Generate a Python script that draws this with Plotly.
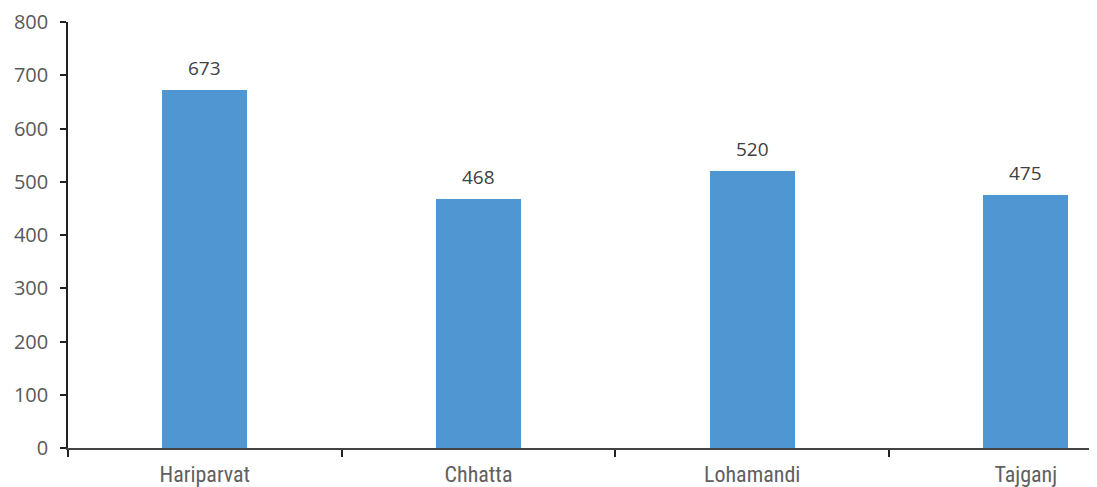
import plotly.graph_objects as go

categories = ["Hariparvat", "Chhatta", "Lohamandi", "Tajganj"]
values = [673, 468, 520, 475]
y_ticks = [0, 100, 200, 300, 400, 500, 600, 700, 800]

fig = go.Figure(go.Bar(
    x=categories, y=values,
    marker=dict(color="#4f97d3", line=dict(width=0)),
    width=0.31,
))

for c, v in zip(categories, values):
    fig.add_annotation(
        x=c, y=v, text=str(v), showarrow=False,
        yanchor="bottom", yshift=7,
        font=dict(family="Open Sans, DejaVu Sans", size=19, color="#404040"),
    )

fig.update_layout(
    width=1089, height=479,
    margin=dict(l=60, r=0, t=14, b=39, autoexpand=False),
    plot_bgcolor="white", paper_bgcolor="white",
    showlegend=False,
    bargap=0,
)
fig.update_xaxes(
    type="category",
    range=[-0.5, 3.26],
    tickson="boundaries",
    ticks="outside", ticklen=7, tickwidth=1.5, tickcolor="#222222",
    showline=True, linecolor="#444444", linewidth=1.5,
    showgrid=False, automargin=False,
    tickfont=dict(family="Liberation Sans Narrow, Roboto Condensed, DejaVu Sans Condensed", size=22, color="#606060"),
    ticklabelstandoff=6,
)
fig.update_yaxes(
    range=[0, 800],
    tickvals=y_ticks,
    ticks="outside", ticklen=6, tickwidth=1.5, tickcolor="#222222",
    showline=True, linecolor="#222222", linewidth=1.5,
    showgrid=False, zeroline=False, automargin=False,
    tickfont=dict(family="Open Sans, DejaVu Sans", size=20, color="#595959"),
    ticklabelstandoff=8,
)

fig.write_html("out.html")
